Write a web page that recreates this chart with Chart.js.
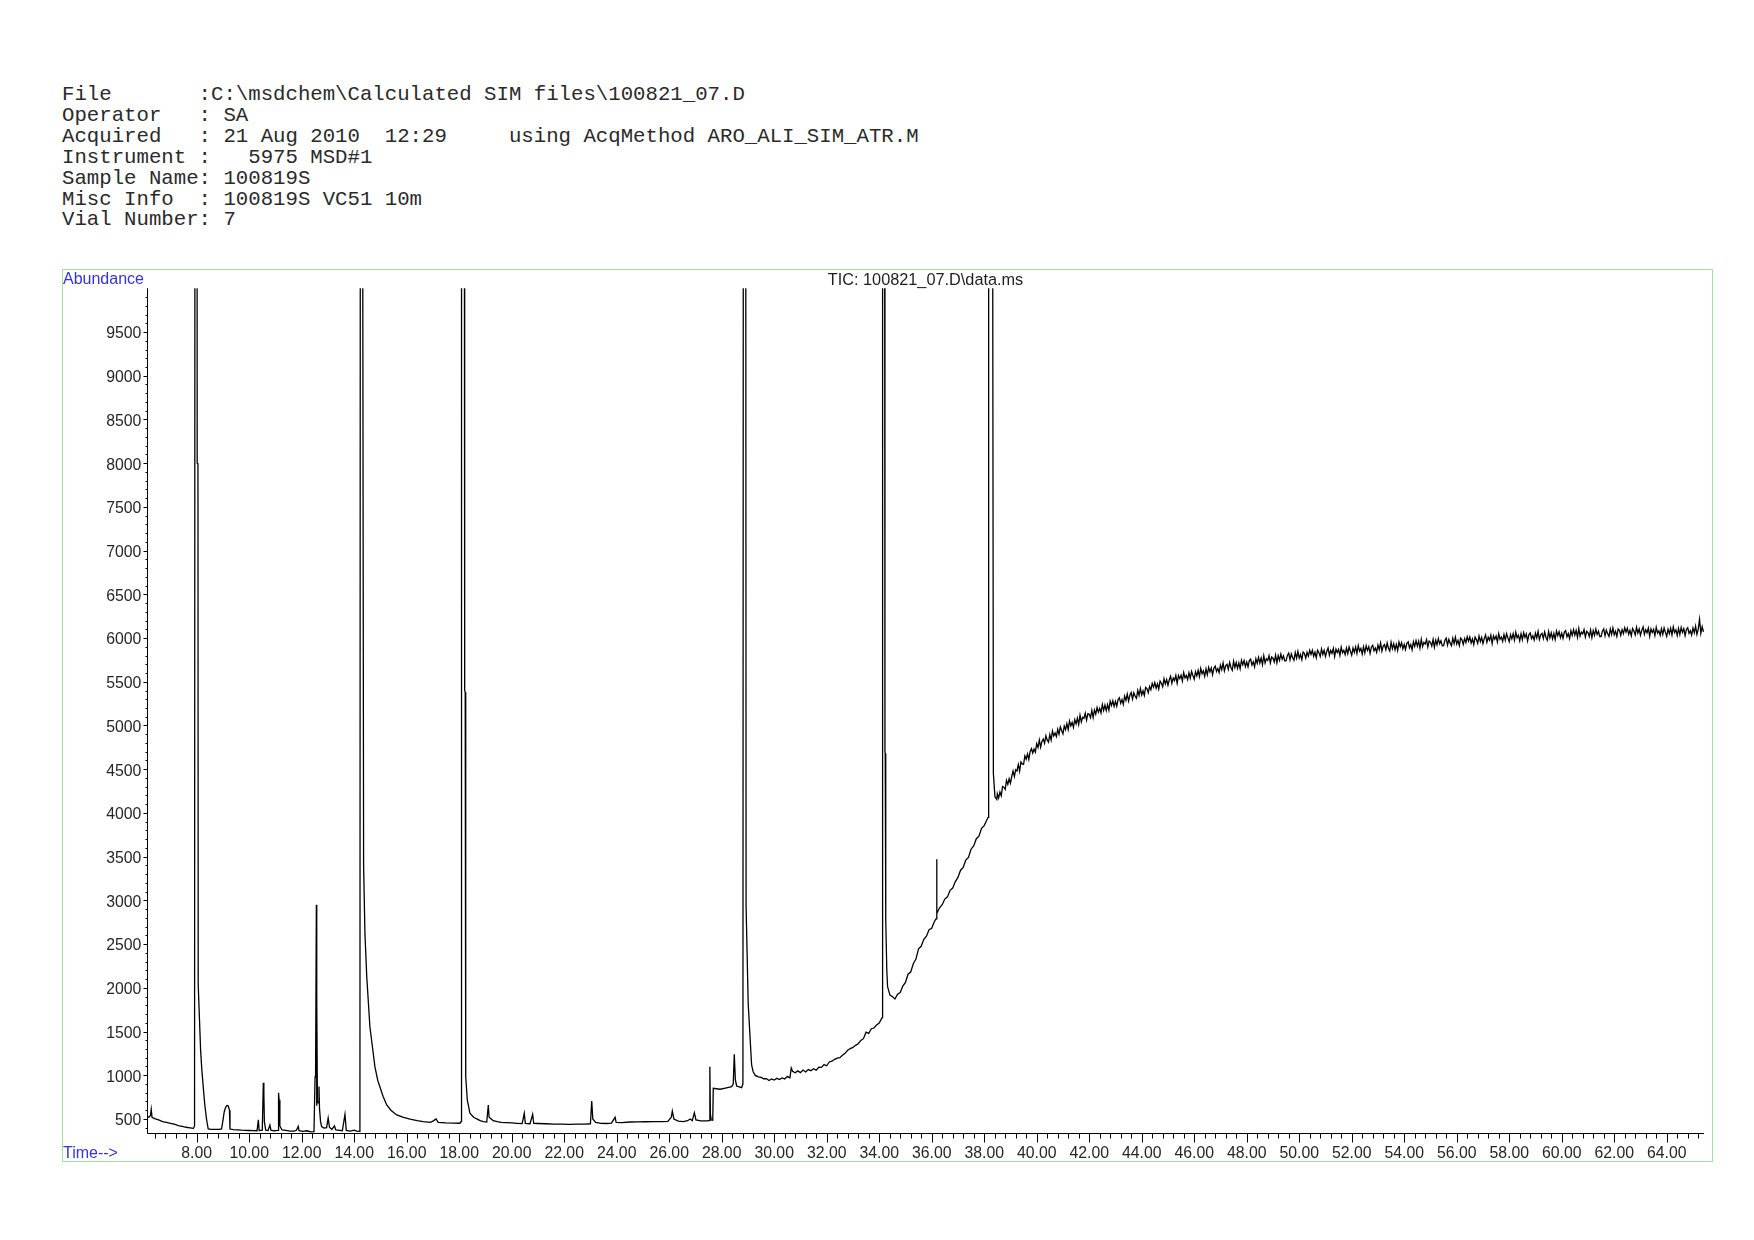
<!DOCTYPE html>
<html>
<head>
<meta charset="utf-8">
<title>TIC: 100821_07.D\data.ms</title>
<script src="https://cdn.jsdelivr.net/npm/chart.js@4.4.1/dist/chart.umd.min.js"></script>
<style>
  body { margin: 0; width: 1754px; height: 1240px; background: #fff; position: relative; overflow: hidden; }
  #header { position: absolute; left: 62px; top: 85px; margin: 0; font-family: "Liberation Mono", "Courier New", monospace; font-size: 20.7px; line-height: 20.9px; color: #2a2a2a; }
  #frame { position: absolute; left: 62px; top: 269px; width: 1651px; height: 893px; box-sizing: border-box; border: 1px solid #9fe49f; }
  #chart { position: absolute; left: 0; top: 0; }
  .txt { position: absolute; font-family: "Liberation Sans", Arial, sans-serif; white-space: nowrap; }
  .blue { color: #3434d6; font-size: 16px; line-height: 16px; }
  #abund { left: 63px; top: 271px; }
  #time { left: 63px; top: 1145px; }
  #tic { left: 147px; width: 1557px; top: 271px; text-align: center; font-size: 16.3px; line-height: 16.3px; color: #1e1e1e; }
</style>
</head>
<body>
<pre id="header">File       :C:\msdchem\Calculated SIM files\100821_07.D
Operator   : SA
Acquired   : 21 Aug 2010  12:29     using AcqMethod ARO_ALI_SIM_ATR.M
Instrument :   5975 MSD#1
Sample Name: 100819S
Misc Info  : 100819S VC51 10m
Vial Number: 7</pre>
<div id="frame"></div>
<canvas id="chart" width="1754" height="1240"></canvas>
<div class="txt blue" id="abund">Abundance</div>
<div class="txt blue" id="time">Time--&gt;</div>
<div class="txt" id="tic">TIC: 100821_07.D\data.ms</div>

<script>
'use strict'

// retention time (min) and abundance
// peaks that run off the top of the plot are given as 16000 (clipped)
let rtEarly = [
  6.12, 6.18, 6.24, 6.27, 6.30, 6.40, 6.55, 6.70, 6.85, 7.00,
  7.15, 7.30, 7.45, 7.60, 7.75, 7.88, 7.92, 7.94, 8.01, 8.02,
  8.05, 8.06, 8.10, 8.15, 8.20, 8.25, 8.31, 8.38, 8.44, 8.55,
  8.70, 8.85, 8.95, 9.00, 9.05, 9.10, 9.15, 9.20, 9.25, 9.27,
  9.40, 9.55, 9.70, 9.85, 10.00, 10.15, 10.30, 10.35, 10.38, 10.50,
  10.54, 10.56, 10.58, 10.63, 10.72, 10.79, 10.83, 10.95, 11.10, 11.12,
  11.14, 11.17, 11.25, 11.40, 11.55, 11.70, 11.80, 11.87, 11.90, 12.05,
  12.20, 12.35, 12.47, 12.51, 12.53, 12.56, 12.57, 12.58, 12.60, 12.63,
  12.66, 12.68, 12.72, 12.76, 12.85, 12.95, 13.01, 13.06, 13.15, 13.25,
  13.30, 13.45, 13.55, 13.65, 13.70, 13.85, 14.00, 14.10, 14.20, 14.22,
  14.24, 14.30, 14.36, 14.41, 14.48, 14.60, 14.79, 14.90, 14.98, 15.10,
  15.24, 15.40, 15.62, 15.85, 16.13, 16.40, 16.63, 16.90, 17.00, 17.12,
  17.20, 17.50, 17.80, 18.03, 18.07, 18.09, 18.19, 18.21, 18.23, 18.24,
  18.26, 18.31, 18.41, 18.55, 18.67, 18.80, 18.92, 19.05, 19.11, 19.14,
  19.20, 19.30, 19.45, 19.60, 19.80, 20.00, 20.20, 20.40, 20.48, 20.52,
  20.70, 20.80, 20.84, 21.00, 21.30, 21.60, 21.90, 22.20, 22.50, 22.80,
  23.00, 23.05, 23.09, 23.20, 23.40, 23.60, 23.80, 23.94, 23.98, 24.20,
  24.50, 24.80, 25.10, 25.40, 25.70, 25.95, 26.08, 26.12, 26.18, 26.35,
  26.55, 26.70, 26.80, 26.88, 26.96, 27.02, 27.20, 27.45, 27.52, 27.55,
  27.57, 27.60, 27.66, 27.68, 27.94, 28.10, 28.38, 28.44, 28.48, 28.52,
  28.57, 28.76, 28.81, 28.83, 28.91, 28.93, 29.01, 29.08, 29.14, 29.20,
  29.27
];
let ticEarly = [
  530, 520, 540, 610, 520, 505, 490, 470, 460, 450,
  440, 425, 415, 405, 398, 392, 420, 16000, 16000, 8000,
  7990, 2030, 1700, 1290, 1050, 870, 660, 490, 385, 380,
  382, 380, 385, 480, 580, 630, 655, 650, 600, 385,
  378, 376, 372, 370, 368, 366, 365, 490, 368, 372,
  915, 790, 470, 372, 368, 430, 372, 365, 370, 800,
  720, 420, 375, 370, 362, 360, 370, 415, 365, 358,
  365, 352, 355, 980, 985, 2950, 650, 1880, 700, 683,
  870, 620, 470, 412, 395, 400, 510, 405, 380, 420,
  375, 370, 365, 553, 370, 362, 372, 360, 358, 365,
  16000, 16000, 3400, 2626, 2127, 1555, 1098, 940, 869, 760,
  660, 600, 546, 520, 497, 480, 470, 462, 475, 500,
  462, 456, 452, 451, 470, 16000, 16000, 5400, 5380, 1500,
  983, 717, 565, 520, 500, 482, 470, 465, 660, 520,
  505, 480, 470, 462, 458, 455, 450, 446, 565, 450,
  445, 553, 450, 448, 445, 442, 440, 438, 440, 442,
  445, 706, 500, 460, 450, 448, 452, 519, 460, 458,
  465, 466, 468, 470, 470, 472, 520, 591, 500, 475,
  470, 480, 500, 480, 572, 490, 478, 477, 480, 1098,
  560, 489, 485, 851, 840, 850, 869, 900, 1240, 950,
  877, 858, 900, 16000, 16000, 2930, 1823, 1441, 1117, 1040,
  1003
];

let rtMid = [
  29.30, 29.40, 29.50, 29.60, 29.70, 29.80, 29.90, 30.00, 30.10, 30.20,
  30.30, 30.40, 30.50, 30.60, 30.65, 30.70, 30.80, 30.90, 31.00, 31.10,
  31.20, 31.30, 31.40, 31.50, 31.60, 31.70, 31.80, 31.90, 32.00, 32.10,
  32.20, 32.30, 32.40, 32.50, 32.60, 32.70, 32.80, 32.90, 33.00, 33.10,
  33.20, 33.30, 33.40, 33.50, 33.60, 33.70, 33.80, 33.90, 34.00, 34.08,
  34.11, 34.13, 34.20, 34.22, 34.23, 34.25, 34.29, 34.32, 34.41, 34.50,
  34.60, 34.70, 34.80, 34.90, 35.00, 35.10, 35.20, 35.30, 35.40, 35.50,
  35.60, 35.70, 35.80, 35.90, 36.00, 36.10, 36.17, 36.19, 36.20, 36.30,
  36.40, 36.50, 36.60, 36.70, 36.80, 36.90, 37.00, 37.10, 37.20, 37.30,
  37.40, 37.50, 37.60, 37.70, 37.80, 37.90, 38.00, 38.10, 38.15, 38.17,
  38.30, 38.35, 38.41, 38.48
];
let ticMid = [
  995, 982, 975, 960, 962, 940, 958, 945, 965, 950,
  970, 958, 985, 972, 1082, 1045, 1028, 1050, 1030, 1060,
  1038, 1065, 1052, 1075, 1058, 1092, 1090, 1122, 1108, 1152,
  1160, 1182, 1195, 1200, 1228, 1250, 1285, 1305, 1318, 1342,
  1360, 1398, 1418, 1492, 1478, 1532, 1540, 1575, 1598, 1642,
  1660, 16000, 16000, 4700, 4680, 2775, 2203, 2012, 1917, 1900,
  1872, 1928, 1945, 2020, 2062, 2155, 2180, 2275, 2330, 2445,
  2475, 2555, 2590, 2665, 2680, 2755, 2790, 3470, 2850, 2915,
  2950, 3015, 3040, 3115, 3140, 3215, 3262, 3345, 3378, 3460,
  3490, 3585, 3622, 3705, 3735, 3825, 3855, 3920, 3950, 16000,
  16000, 4451, 4184, 4154
];

// noisy baseline after the last big peak, one row per minute
let rtLate = [
  38.50, 38.55, 38.60, 38.65, 38.70, 38.75, 38.80, 38.85, 38.90, 38.95, 39.00, 39.05, 39.10, 39.15, 39.20, 39.25, 39.30, 39.35, 39.40, 39.45,
  39.50, 39.55, 39.60, 39.65, 39.70, 39.75, 39.80, 39.85, 39.90, 39.95, 40.00, 40.05, 40.10, 40.15, 40.20, 40.25, 40.30, 40.35, 40.40, 40.45,
  40.50, 40.55, 40.60, 40.65, 40.70, 40.75, 40.80, 40.85, 40.90, 40.95, 41.00, 41.05, 41.10, 41.15, 41.20, 41.25, 41.30, 41.35, 41.40, 41.45,
  41.50, 41.55, 41.60, 41.65, 41.70, 41.75, 41.80, 41.85, 41.90, 41.95, 42.00, 42.05, 42.10, 42.15, 42.20, 42.25, 42.30, 42.35, 42.40, 42.45,
  42.50, 42.55, 42.60, 42.65, 42.70, 42.75, 42.80, 42.85, 42.90, 42.95, 43.00, 43.05, 43.10, 43.15, 43.20, 43.25, 43.30, 43.35, 43.40, 43.45,
  43.50, 43.55, 43.60, 43.65, 43.70, 43.75, 43.80, 43.85, 43.90, 43.95, 44.00, 44.05, 44.10, 44.15, 44.20, 44.25, 44.30, 44.35, 44.40, 44.45,
  44.50, 44.55, 44.60, 44.65, 44.70, 44.75, 44.80, 44.85, 44.90, 44.95, 45.00, 45.05, 45.10, 45.15, 45.20, 45.25, 45.30, 45.35, 45.40, 45.45,
  45.50, 45.55, 45.60, 45.65, 45.70, 45.75, 45.80, 45.85, 45.90, 45.95, 46.00, 46.05, 46.10, 46.15, 46.20, 46.25, 46.30, 46.35, 46.40, 46.45,
  46.50, 46.55, 46.60, 46.65, 46.70, 46.75, 46.80, 46.85, 46.90, 46.95, 47.00, 47.05, 47.10, 47.15, 47.20, 47.25, 47.30, 47.35, 47.40, 47.45,
  47.50, 47.55, 47.60, 47.65, 47.70, 47.75, 47.80, 47.85, 47.90, 47.95, 48.00, 48.05, 48.10, 48.15, 48.20, 48.25, 48.30, 48.35, 48.40, 48.45,
  48.50, 48.55, 48.60, 48.65, 48.70, 48.75, 48.80, 48.85, 48.90, 48.95, 49.00, 49.05, 49.10, 49.15, 49.20, 49.25, 49.30, 49.35, 49.40, 49.45,
  49.50, 49.55, 49.60, 49.65, 49.70, 49.75, 49.80, 49.85, 49.90, 49.95, 50.00, 50.05, 50.10, 50.15, 50.20, 50.25, 50.30, 50.35, 50.40, 50.45,
  50.50, 50.55, 50.60, 50.65, 50.70, 50.75, 50.80, 50.85, 50.90, 50.95, 51.00, 51.05, 51.10, 51.15, 51.20, 51.25, 51.30, 51.35, 51.40, 51.45,
  51.50, 51.55, 51.60, 51.65, 51.70, 51.75, 51.80, 51.85, 51.90, 51.95, 52.00, 52.05, 52.10, 52.15, 52.20, 52.25, 52.30, 52.35, 52.40, 52.45,
  52.50, 52.55, 52.60, 52.65, 52.70, 52.75, 52.80, 52.85, 52.90, 52.95, 53.00, 53.05, 53.10, 53.15, 53.20, 53.25, 53.30, 53.35, 53.40, 53.45,
  53.50, 53.55, 53.60, 53.65, 53.70, 53.75, 53.80, 53.85, 53.90, 53.95, 54.00, 54.05, 54.10, 54.15, 54.20, 54.25, 54.30, 54.35, 54.40, 54.45,
  54.50, 54.55, 54.60, 54.65, 54.70, 54.75, 54.80, 54.85, 54.90, 54.95, 55.00, 55.05, 55.10, 55.15, 55.20, 55.25, 55.30, 55.35, 55.40, 55.45,
  55.50, 55.55, 55.60, 55.65, 55.70, 55.75, 55.80, 55.85, 55.90, 55.95, 56.00, 56.05, 56.10, 56.15, 56.20, 56.25, 56.30, 56.35, 56.40, 56.45,
  56.50, 56.55, 56.60, 56.65, 56.70, 56.75, 56.80, 56.85, 56.90, 56.95, 57.00, 57.05, 57.10, 57.15, 57.20, 57.25, 57.30, 57.35, 57.40, 57.45,
  57.50, 57.55, 57.60, 57.65, 57.70, 57.75, 57.80, 57.85, 57.90, 57.95, 58.00, 58.05, 58.10, 58.15, 58.20, 58.25, 58.30, 58.35, 58.40, 58.45,
  58.50, 58.55, 58.60, 58.65, 58.70, 58.75, 58.80, 58.85, 58.90, 58.95, 59.00, 59.05, 59.10, 59.15, 59.20, 59.25, 59.30, 59.35, 59.40, 59.45,
  59.50, 59.55, 59.60, 59.65, 59.70, 59.75, 59.80, 59.85, 59.90, 59.95, 60.00, 60.05, 60.10, 60.15, 60.20, 60.25, 60.30, 60.35, 60.40, 60.45,
  60.50, 60.55, 60.60, 60.65, 60.70, 60.75, 60.80, 60.85, 60.90, 60.95, 61.00, 61.05, 61.10, 61.15, 61.20, 61.25, 61.30, 61.35, 61.40, 61.45,
  61.50, 61.55, 61.60, 61.65, 61.70, 61.75, 61.80, 61.85, 61.90, 61.95, 62.00, 62.05, 62.10, 62.15, 62.20, 62.25, 62.30, 62.35, 62.40, 62.45,
  62.50, 62.55, 62.60, 62.65, 62.70, 62.75, 62.80, 62.85, 62.90, 62.95, 63.00, 63.05, 63.10, 63.15, 63.20, 63.25, 63.30, 63.35, 63.40, 63.45,
  63.50, 63.55, 63.60, 63.65, 63.70, 63.75, 63.80, 63.85, 63.90, 63.95, 64.00, 64.05, 64.10, 64.15, 64.20, 64.25, 64.30, 64.35, 64.40, 64.45,
  64.50, 64.55, 64.60, 64.65, 64.70, 64.75, 64.80, 64.85, 64.90, 64.95, 65.00, 65.05, 65.10, 65.15, 65.20, 65.25, 65.30, 65.35, 65.40
];
let ticLate = [
  4220, 4172, 4239, 4196, 4303, 4295, 4269, 4373, 4327, 4391, 4340, 4417, 4479, 4416, 4493, 4480, 4554, 4478, 4582, 4561,
  4555, 4653, 4616, 4674, 4612, 4700, 4735, 4685, 4731, 4696, 4791, 4748, 4835, 4752, 4818, 4845, 4796, 4882, 4833, 4809,
  4895, 4834, 4937, 4881, 4914, 4873, 4956, 4900, 4983, 4942, 4905, 4994, 4952, 5021, 4954, 5053, 4996, 5035, 4978, 5067,
  5020, 5083, 5011, 5118, 5041, 5094, 5082, 5140, 5062, 5135, 5128, 5090, 5172, 5090, 5177, 5129, 5206, 5153, 5196, 5143,
  5240, 5172, 5234, 5171, 5238, 5175, 5277, 5229, 5281, 5218, 5275, 5221, 5297, 5318, 5254, 5295, 5241, 5337, 5288, 5359,
  5280, 5346, 5377, 5303, 5374, 5335, 5311, 5402, 5343, 5424, 5350, 5397, 5344, 5436, 5423, 5375, 5447, 5409, 5481, 5438,
  5490, 5426, 5476, 5417, 5507, 5483, 5443, 5534, 5474, 5525, 5460, 5520, 5564, 5484, 5543, 5513, 5572, 5482, 5571, 5536,
  5575, 5508, 5606, 5544, 5572, 5525, 5603, 5541, 5619, 5572, 5530, 5614, 5567, 5631, 5559, 5653, 5591, 5625, 5563, 5647,
  5580, 5664, 5613, 5657, 5581, 5655, 5679, 5618, 5652, 5606, 5690, 5638, 5716, 5624, 5682, 5700, 5643, 5721, 5664, 5632,
  5735, 5663, 5720, 5653, 5716, 5649, 5746, 5694, 5742, 5674, 5727, 5669, 5742, 5759, 5691, 5729, 5671, 5763, 5711, 5778,
  5715, 5773, 5695, 5798, 5715, 5763, 5745, 5798, 5715, 5783, 5770, 5727, 5804, 5716, 5798, 5745, 5817, 5759, 5796, 5738,
  5740, 5802, 5829, 5751, 5818, 5775, 5747, 5834, 5771, 5848, 5770, 5812, 5754, 5841, 5823, 5770, 5837, 5794, 5861, 5813,
  5860, 5792, 5838, 5775, 5861, 5833, 5789, 5876, 5812, 5859, 5790, 5846, 5887, 5803, 5859, 5825, 5881, 5787, 5873, 5834,
  5870, 5801, 5897, 5833, 5859, 5810, 5886, 5822, 5898, 5849, 5805, 5886, 5837, 5898, 5824, 5915, 5851, 5882, 5818, 5899,
  5830, 5912, 5859, 5901, 5823, 5895, 5917, 5854, 5886, 5838, 5920, 5867, 5944, 5850, 5907, 5924, 5866, 5943, 5884, 5851,
  5953, 5879, 5935, 5866, 5927, 5858, 5954, 5900, 5946, 5877, 5928, 5869, 5941, 5957, 5889, 5925, 5866, 5958, 5904, 5971,
  5907, 5964, 5885, 5987, 5903, 5950, 5931, 5983, 5899, 5966, 5952, 5908, 5984, 5895, 5976, 5922, 5993, 5934, 5970, 5911,
  5912, 5973, 5999, 5920, 5986, 5942, 5913, 5999, 5935, 6011, 5932, 5973, 5914, 6000, 5981, 5927, 5993, 5949, 6015, 5966,
  6012, 5943, 5989, 5925, 6011, 5982, 5938, 6024, 5960, 6006, 5938, 5994, 6036, 5952, 6009, 5975, 6032, 5938, 6025, 5986,
  6023, 5954, 6050, 5986, 6012, 5963, 6039, 5975, 6051, 6002, 5958, 6039, 5990, 6050, 5976, 6067, 6003, 6034, 5969, 6050,
  5981, 6062, 6007, 6048, 5968, 6039, 6059, 5995, 6025, 5976, 6056, 6002, 6077, 5983, 6038, 6054, 5994, 6070, 6010, 5976,
  6076, 6002, 6059, 5990, 6052, 5983, 6080, 6026, 6073, 6004, 6055, 5996, 6068, 6084, 6015, 6052, 5993, 6084, 6031, 6097,
  6033, 6088, 6008, 6108, 6023, 6068, 6048, 6098, 6013, 6078, 6063, 6019, 6094, 6005, 6085, 6031, 6101, 6042, 6077, 6018,
  6018, 6079, 6105, 6026, 6092, 6048, 6019, 6105, 6041, 6117, 6038, 6078, 6019, 6104, 6085, 6030, 6096, 6051, 6117, 6067,
  6113, 6044, 6089, 6025, 6110, 6081, 6036, 6122, 6057, 6103, 6033, 6088, 6127, 6042, 6096, 6061, 6115, 6020, 6104, 6064,
  6099, 6029, 6123, 6058, 6082, 6032, 6106, 6041, 6115, 6065, 6020, 6101, 6051, 6112, 6037, 6128, 6063, 6094, 6029, 6110,
  6040, 6121, 6066, 6107, 6027, 6098, 6118, 6054, 6084, 6035, 6115, 6061, 6137, 6043, 6099, 6215, 6055, 6130, 6070
];

let yTickLabels = ['500', '1000', '1500', '2000', '2500', '3000', '3500', '4000', '4500', '5000',
  '5500', '6000', '6500', '7000', '7500', '8000', '8500', '9000', '9500'];
let xTickLabels = ['8.00', '10.00', '12.00', '14.00', '16.00', '18.00', '20.00', '22.00', '24.00', '26.00',
  '28.00', '30.00', '32.00', '34.00', '36.00', '38.00', '40.00', '42.00', '44.00', '46.00',
  '48.00', '50.00', '52.00', '54.00', '56.00', '58.00', '60.00', '62.00', '64.00'];

let rtStart = 6.12;
let rtEnd = 65.42;
let abundMin = 336;
let abundMax = 10000;

let allRt = rtEarly.concat(rtMid, rtLate);
let allTic = ticEarly.concat(ticMid, ticLate);
let points = [];
for (let i = 0; i < allRt.length; i++) {
  points.push({ x: allRt[i], y: allTic[i] });
}

let labelFont = { family: 'Liberation Sans, Arial, sans-serif', size: 15.8 };

// axis lines plus the major/minor tick marks of the ChemStation print
const axisPlugin = {
  id: 'chemAxes',
  afterDatasetsDraw(chart) {
    const ctx = chart.ctx;
    const area = chart.chartArea;
    const xs = chart.scales.x;
    const ys = chart.scales.y;
    const left = Math.round(area.left) + 0.5;
    const bottom = Math.round(area.bottom) + 0.5;
    ctx.save();
    ctx.strokeStyle = '#000';
    ctx.lineWidth = 1;
    ctx.beginPath();
    ctx.moveTo(left, area.top);
    ctx.lineTo(left, bottom);
    ctx.lineTo(area.right, bottom);
    for (let v = 400; v < abundMax; v += 100) {
      let py = Math.round(ys.getPixelForValue(v)) + 0.5;
      let len = v % 500 === 0 ? 4 : 2;
      ctx.moveTo(left - len, py);
      ctx.lineTo(left, py);
    }
    for (let k = 16; k <= 163; k++) {
      let px = Math.round(xs.getPixelForValue(k * 0.4)) + 0.5;
      let len = k % 5 === 0 ? 9 : 5;
      ctx.moveTo(px, bottom);
      ctx.lineTo(px, bottom + len);
    }
    ctx.stroke();
    ctx.restore();
  }
};

let canvas = document.getElementById('chart');
const chart = new Chart(canvas, {
  type: 'line',
  data: {
    datasets: [{
      label: 'TIC',
      data: points,
      borderColor: '#000',
      borderWidth: 1.3,
      pointRadius: 0,
      tension: 0,
      fill: false
    }]
  },
  options: {
    responsive: false,
    animation: false,
    devicePixelRatio: 1,
    events: [],
    parsing: false,
    layout: { padding: { left: 62, right: 50, top: 288.3, bottom: 78.7 } },
    plugins: {
      legend: { display: false },
      tooltip: { enabled: false },
      title: { display: false }
    },
    scales: {
      x: {
        type: 'linear',
        min: rtStart,
        max: rtEnd,
        afterBuildTicks: function (scale) {
          scale.ticks = xTickLabels.map(function (l) { return { value: parseFloat(l) }; });
        },
        afterFit: function (scale) { scale.height = 28; },
        grid: { display: false, drawTicks: false },
        border: { display: false },
        ticks: {
          autoSkip: false,
          maxRotation: 0,
          padding: 11,
          color: '#262626',
          font: labelFont,
          callback: function (v) { return v.toFixed(2); }
        }
      },
      y: {
        type: 'linear',
        min: abundMin,
        max: abundMax,
        afterBuildTicks: function (scale) {
          scale.ticks = yTickLabels.map(function (l) { return { value: parseInt(l, 10) }; });
        },
        afterFit: function (scale) { scale.width = 85.3; },
        grid: { display: false, drawTicks: false },
        border: { display: false },
        ticks: {
          padding: 6,
          labelOffset: 2,
          color: '#262626',
          font: labelFont,
          callback: function (v) { return String(v); }
        }
      }
    }
  },
  plugins: [axisPlugin]
});
</script>
</body>
</html>
